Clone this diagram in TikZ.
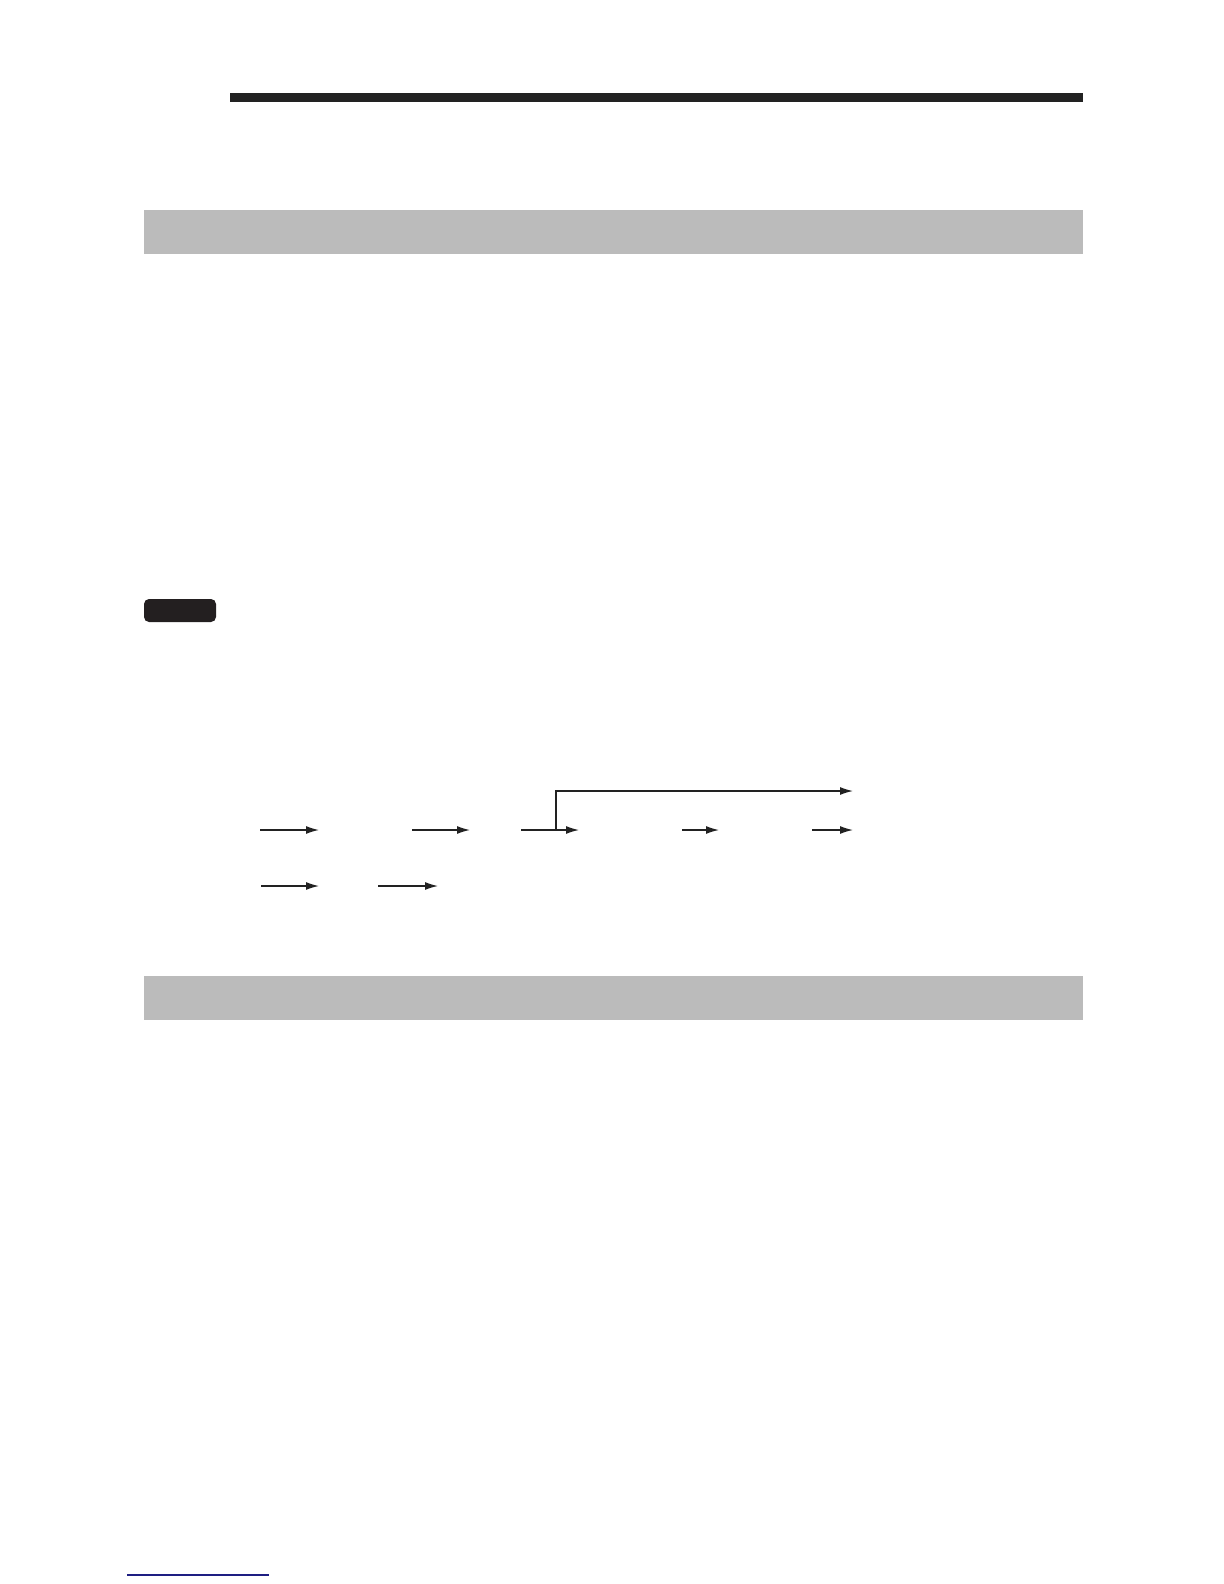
\documentclass[tikz,border=0pt]{standalone}
\usepackage{tikz}
\usetikzlibrary{arrows.meta, calc, positioning}
\definecolor{bar}{HTML}{222222}
\definecolor{band}{HTML}{BBBBBB}
\definecolor{tag}{HTML}{231F20}
\definecolor{link}{RGB}{30, 30, 130}

\begin{document}
\begin{tikzpicture}[x=0.5pt, y=-0.5pt,
		flow/.style={line width=0.65pt, draw=bar, -{Latex[length=6.5pt, width=4pt]}}]
		\useasboundingbox (0, 0) rectangle (1224, 1584);
		
		% header rule and section bands
		\fill[bar] (230, 93) rectangle (1083, 102);
		\fill[band] (144, 210) rectangle (1083, 254);
		\fill[band] (144, 976) rectangle (1083, 1020);
		\fill[tag, rounded corners=2.5pt] (144, 599) rectangle (216, 622);
		
		% first row
		\coordinate (S1) at (260, 830);
		\coordinate (E1) at (319, 830);
		\coordinate (S2) at (412, 830);
		\coordinate (E2) at (470, 830);
		\coordinate (S3) at (521, 830);
		\coordinate (E3) at (579, 830);
		\coordinate (S4) at (682, 830);
		\coordinate (E4) at (719, 830);
		\coordinate (S5) at (812, 830);
		\coordinate (E5) at (853, 830);
		
		\coordinate (Br) at (556, 830);
		\coordinate (Bt) at (853, 791);
		
		\draw[flow] (S1) -- (E1);
		\draw[flow] (S2) -- (E2);
		\draw[flow] (S3) -- (E3);
		\draw[flow] (S4) -- (E4);
		\draw[flow] (S5) -- (E5);
		\draw[flow] (Br) |- (Bt);
		
		% second row
		\coordinate (T1) at (261, 886);
		\coordinate (F1) at (319, 886);
		\coordinate (T2) at (378, 886);
		\coordinate (F2) at (438, 886);
		
		\draw[flow] (T1) -- (F1);
		\draw[flow] (T2) -- (F2);
		
		% footer link
		\draw[link, line width=0.6pt] (127, 1575) -- (269, 1575);
	
	\end{tikzpicture}
\end{document}
